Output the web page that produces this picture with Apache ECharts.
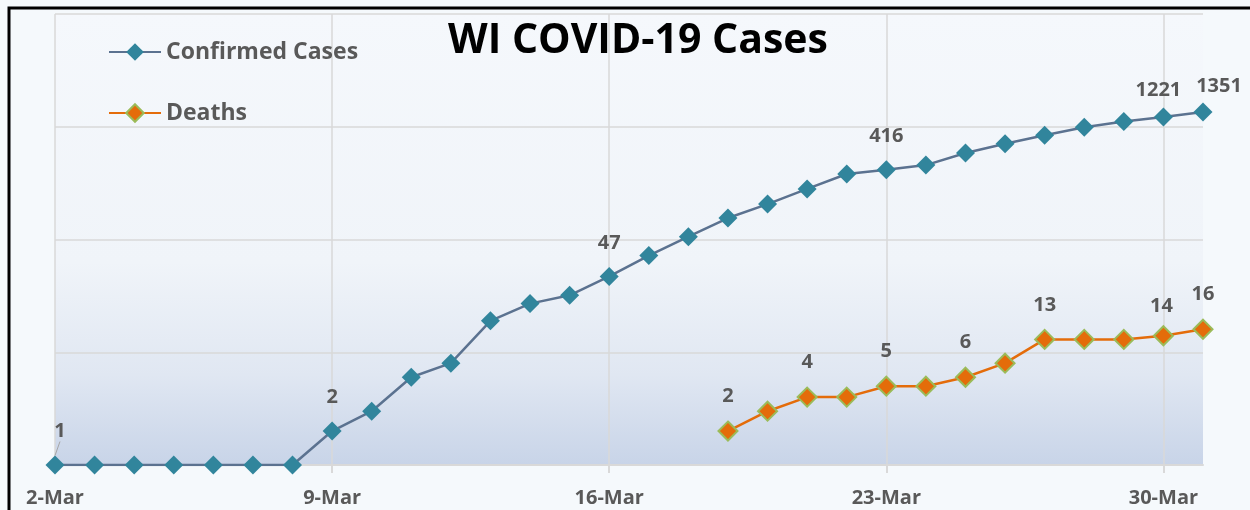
<!DOCTYPE html>
<html>
<head>
<meta charset="utf-8">
<script src="https://cdn.jsdelivr.net/npm/echarts@6/dist/echarts.min.js"></script>
<style>
html,body{margin:0;padding:0;background:#f5f9fc;}
#c{width:1250px;height:510px;}
</style>
</head>
<body>
<div id="c"></div>
<script>
var categories = ['2-Mar','3-Mar','4-Mar','5-Mar','6-Mar','7-Mar','8-Mar','9-Mar','10-Mar','11-Mar','12-Mar','13-Mar','14-Mar','15-Mar','16-Mar','17-Mar','18-Mar','19-Mar','20-Mar','21-Mar','22-Mar','23-Mar','24-Mar','25-Mar','26-Mar','27-Mar','28-Mar','29-Mar','30-Mar','31-Mar'];
var confirmedCases = [1,1,1,1,1,1,1,2,3,6,8,19,27,32,47,72,106,155,206,281,381,416,457,585,707,842,989,1112,1221,1351];
var deaths = [null,null,null,null,null,null,null,null,null,null,null,null,null,null,null,null,null,2,3,4,4,5,5,6,8,13,13,13,14,16];
var confirmedLabelDays = ['2-Mar','9-Mar','16-Mar','23-Mar','30-Mar','31-Mar'];
var deathLabelDays = ['19-Mar','21-Mar','23-Mar','25-Mar','27-Mar','30-Mar','31-Mar'];

// label nudges (style only): [dx, dy] per series index
var labelNudges = [
  {'2-Mar':[5,0], '30-Mar':[-5,7], '31-Mar':[16,8]},
  {'30-Mar':[-2,5]}
];
var leaderLineDays = [['2-Mar'], []];

function buildData(values, labelDays, seriesIndex){
  return values.map(function(v,i){
    var day = categories[i];
    var item = {value: v == null ? '-' : v};
    if (labelDays.indexOf(day) >= 0) {
      item.label = {show:true};
      item.labelLine = {show: leaderLineDays[seriesIndex].indexOf(day) >= 0, lineStyle:{color:'#a6a6a6', width:1}};
    }
    return item;
  });
}

var labelFont = {fontFamily:'Open Sans', fontWeight:'bold', fontSize:20, color:'#595959'};

function layoutFn(p){
  var n = labelNudges[p.seriesIndex][categories[p.dataIndex]];
  if (n) return {dx:n[0], dy:n[1]};
  return {};
}

var legendText = {fontFamily:'Open Sans', fontWeight:'bold', fontSize:23, color:'#595959', lineHeight:26};

var chart = echarts.init(document.getElementById('c'));
chart.setOption({
  backgroundColor:'#f5f9fc',
  animation:false,
  title:{
    text:'WI COVID-19 Cases', left:633, top:16, textAlign:'center',
    textStyle:{fontFamily:'Open Sans', fontWeight:'bold', fontSize:41, color:'#000'}
  },
  legend:[
    {data:['Confirmed Cases'], left:108, top:39, padding:0, itemWidth:52, itemHeight:22, textStyle:legendText},
    {data:['Deaths'], left:108, top:100, padding:0, itemWidth:52, itemHeight:22, textStyle:legendText}
  ],
  grid:{left:55, right:47, top:14, bottom:45, show:true, borderWidth:0,
    backgroundColor: new echarts.graphic.LinearGradient(0,0,0,1,[
      {offset:0,color:'#f5f8fc'},{offset:0.55,color:'#f0f4f9'},{offset:0.8,color:'#e0e7f2'},{offset:1,color:'#c8d4e8'}])},
  xAxis:{
    type:'category', data:categories, boundaryGap:false,
    axisLine:{show:true, lineStyle:{color:'#d9d9d9', width:2}},
    axisTick:{show:true, interval:6, length:8, lineStyle:{color:'#d9d9d9', width:2}},
    axisLabel:{interval:6, margin:23, fontFamily:'Open Sans', fontWeight:'bold', fontSize:20, color:'#595959'},
    splitLine:{show:true, interval:6, lineStyle:{color:'#d9d9d9', width:1.5}}
  },
  yAxis:{
    type:'log', logBase:10, min:1, max:10000,
    axisLine:{show:false}, axisTick:{show:false}, axisLabel:{show:false},
    splitLine:{show:true, lineStyle:{color:'#d9d9d9', width:1.5}}
  },
  series:[
    {name:'Confirmed Cases', type:'line', data:buildData(confirmedCases, confirmedLabelDays, 0),
     symbol:'diamond', symbolSize:19,
     itemStyle:{color:'#31859c'}, lineStyle:{color:'#5b7290', width:2.5},
     label:{show:false, position:'top', distance:14, textStyle:labelFont},
     labelLine:{show:false},
     labelLayout:layoutFn
    },
    {name:'Deaths', type:'line', data:buildData(deaths, deathLabelDays, 1),
     symbol:'diamond', symbolSize:19,
     itemStyle:{color:'#e46c0a', borderColor:'#9bbb59', borderWidth:2}, lineStyle:{color:'#e46c0a', width:2.5},
     label:{show:false, position:'top', distance:14, textStyle:labelFont},
     labelLine:{show:false},
     labelLayout:layoutFn
    }
  ],
  graphic:[
    {type:'rect', z:100, shape:{x:9, y:8, width:1400, height:700}, style:{fill:null, stroke:'#000', lineWidth:3}}
  ]
});
</script>
</body>
</html>
